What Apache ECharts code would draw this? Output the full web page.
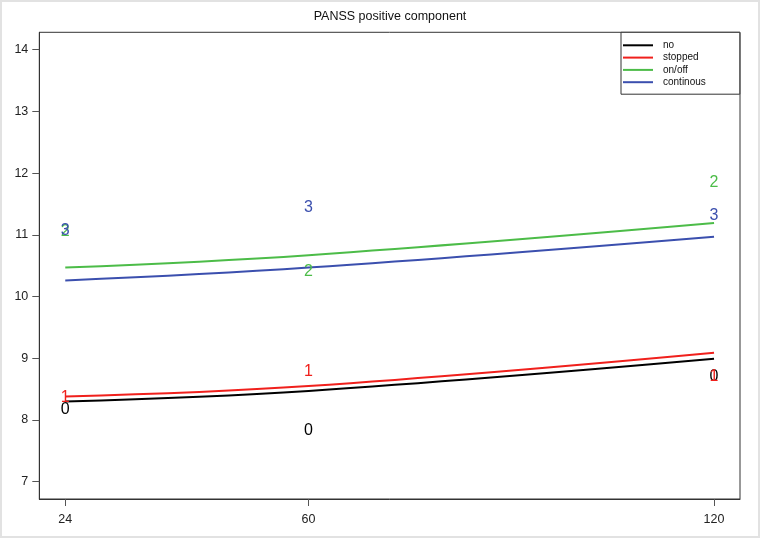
<!DOCTYPE html>
<html>
<head>
<meta charset="utf-8">
<script src="https://cdn.jsdelivr.net/npm/echarts@6/dist/echarts.min.js"></script>
<style>
  html, body { margin: 0; padding: 0; background: #fff; }
  #wrap { position: relative; width: 760px; height: 538px; }
  #chart { width: 760px; height: 538px; }
  #frame { position: absolute; left: 0; top: 0; width: 760px; height: 538px; box-sizing: border-box; border: 2px solid #e2e2e2; pointer-events: none; }
</style>
</head>
<body>
<div id="wrap"><div id="chart"></div><div id="frame"></div></div>
<script>
// months of follow-up
const months = [24, 60, 120];
const yTicks = [7, 8, 9, 10, 11, 12, 13, 14];

// fitted curves per group
const fitNo       = [8.30, 8.47, 8.99];
const fitStopped  = [8.38, 8.55, 9.09];
const fitOnOff    = [10.47, 10.67, 11.19];
const fitContinue = [10.26, 10.47, 10.97];

// observed means, drawn as group digits
const obsNo       = [8.17, 7.83, 8.71];
const obsStopped  = [8.36, 8.79, 8.71];
const obsOnOff    = [11.05, 10.40, 11.85];
const obsContinue = [11.07, 11.44, 11.31];

const groups = [
  { name: "no",        digit: "0", color: "#000000", fit: fitNo,       obs: obsNo },
  { name: "stopped",   digit: "1", color: "#f0201c", fit: fitStopped,  obs: obsStopped },
  { name: "on/off",    digit: "2", color: "#4cbc48", fit: fitOnOff,    obs: obsOnOff },
  { name: "continous", digit: "3", color: "#3b4fae", fit: fitContinue, obs: obsContinue },
];

const FONT = "Liberation Sans, Arial, sans-serif";
const pairs = (ys) => months.map((m, i) => [m, ys[i]]);

const lineSeries = groups.map((g) => ({
  name: g.name,
  type: "line",
  smooth: 0.4,
  showSymbol: false,
  z: 2,
  lineStyle: { color: g.color, width: 2 },
  itemStyle: { color: g.color },
  data: pairs(g.fit),
}));

// scatter defaults to 0.8 opacity, which would fade the digits
const digitSeries = groups.map((g, i) => ({
  name: g.name + " obs",
  type: "scatter",
  symbolSize: 1,
  z: 3 + i,
  itemStyle: { color: "transparent", opacity: 1 },
  label: {
    show: true,
    position: "inside",
    formatter: g.digit,
    color: g.color,
    fontSize: 16,
    fontFamily: FONT,
  },
  data: pairs(g.obs),
}));

const chart = echarts.init(document.getElementById("chart"), null, { renderer: "canvas" });
chart.setOption({
  animation: false,
  backgroundColor: "#fff",
  title: {
    text: "PANSS positive component",
    left: 390,
    top: 10,
    padding: 0,
    textAlign: "center",
    textStyle: { fontSize: 12.5, fontWeight: "normal", color: "#111", fontFamily: FONT },
  },
  grid: {
    left: 39.3, right: 20, top: 32.3, bottom: 39,
    show: true, borderColor: "#333", borderWidth: 1, backgroundColor: "transparent",
  },
  legend: {
    data: groups.map((g) => g.name),
    orient: "vertical",
    left: 621,
    top: 32.3,
    padding: [7, 34, 6, 2],
    itemGap: 0.3,
    itemWidth: 30,
    itemHeight: 2,
    icon: "rect",
    borderColor: "#333",
    borderWidth: 1,
    backgroundColor: "#fff",
    textStyle: { fontSize: 10, lineHeight: 12, color: "#111", fontFamily: FONT, padding: [0, 0, 0, 5] },
  },
  xAxis: {
    type: "value",
    min: 20.16,
    max: 123.84,
    splitLine: { show: false },
    axisLine: { show: true, lineStyle: { color: "#333" } },
    axisTick: { show: true, length: 7, customValues: months, lineStyle: { color: "#555" } },
    axisLabel: { customValues: months, margin: 14, fontSize: 12.5, color: "#222", fontFamily: FONT },
  },
  yAxis: {
    type: "value",
    min: 6.72,
    max: 14.28,
    splitLine: { show: false },
    axisLine: { show: true, lineStyle: { color: "#333" } },
    axisTick: { show: true, length: 7, customValues: yTicks, lineStyle: { color: "#555" } },
    axisLabel: { customValues: yTicks, margin: 11, fontSize: 12.5, color: "#222", fontFamily: FONT },
  },
  series: [...lineSeries, ...digitSeries],
});
</script>
</body>
</html>
